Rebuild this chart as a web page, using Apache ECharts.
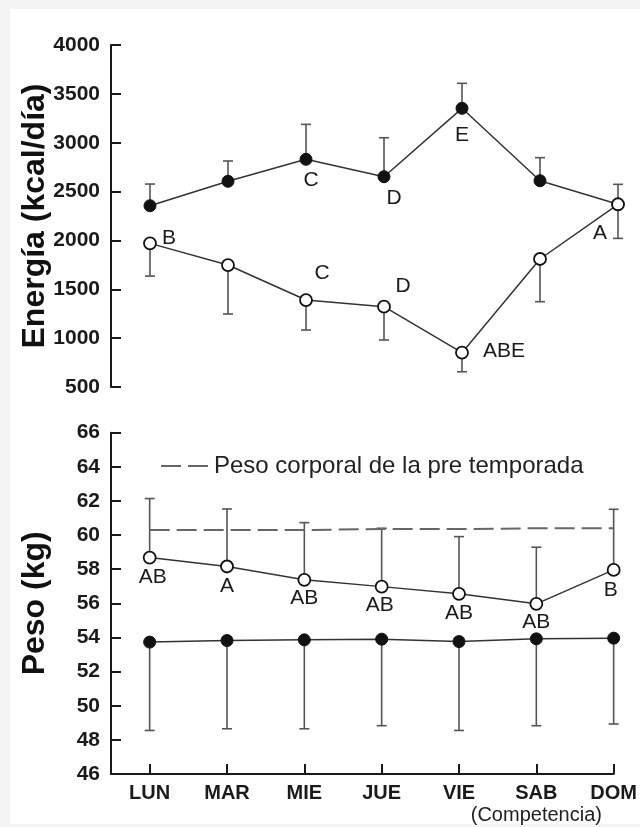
<!DOCTYPE html>
<html>
<head>
<meta charset="utf-8">
<script src="https://cdn.jsdelivr.net/npm/echarts@6/dist/echarts.min.js"></script>
<style>
  html, body { margin: 0; padding: 0; background: #f3f3f3; }
  #paper { position: absolute; left: 10px; top: 9px; width: 630px; height: 815px; background: #ffffff; }
  #chart { position: absolute; left: 0; top: 0; width: 640px; height: 827px; }
</style>
</head>
<body>
<div id="paper"></div>
<div id="chart"></div>
<script>
// ---- Data ----
const dias = ['LUN', 'MAR', 'MIE', 'JUE', 'VIE', 'SAB', 'DOM'];

const energiaCerrado     = [2355, 2605, 2830, 2652, 3352, 2611, 2370];
const energiaCerradoSup  = [2577, 2813, 3188, 3051, 3608, 2847, 2574];
const energiaAbierto     = [1970, 1748, 1390, 1322, 851, 1810, 2370];
const energiaAbiertoInf  = [1635, 1247, 1083, 981, 656, 1373, 2021];

const pesoAbierto        = [58.68, 58.16, 57.38, 56.98, 56.56, 55.97, 57.96];
const pesoAbiertoSup     = [62.14, 61.53, 60.73, 60.40, 59.91, 59.29, 61.51];
const pesoCerrado        = [53.73, 53.82, 53.86, 53.90, 53.76, 53.92, 53.96];
const pesoCerradoInf     = [48.55, 48.65, 48.65, 48.83, 48.55, 48.83, 48.93];
const pesoPretemporada   = [60.30, 60.30, 60.30, 60.35, 60.35, 60.40, 60.40];

const letrasEnergiaCerrado = ['', '', 'C', 'D', 'E', '', ''];
const letrasEnergiaAbierto = ['B', '', 'C', 'D', 'ABE', '', 'A'];
const letrasPesoAbierto    = ['AB', 'A', 'AB', 'AB', 'AB', 'AB', 'B'];

const energiaTicks = { min: 500, max: 4000, step: 500 };
const pesoTicks = { min: 46, max: 66, step: 2 };
const nombreLeyenda = 'Peso corporal de la pre temporada';
const notaSab = '(Competencia)';
const diaNota = 5; // SAB

// ---- Styles (label offsets relative to point centre) ----
const offEnergiaCerrado = [[0,0],[0,0],[5,21],[10,21],[0,27],[0,0],[0,0]];
const offEnergiaAbierto = [[19,-5],[0,0],[16,-27],[19,-20],[42,-1],[0,0],[-18,29]];
const offPesoAbierto    = [[3,20],[0,20],[0,18],[-2,19],[0,19],[0,18],[-3,20]];

const FONT = '"Liberation Sans", Arial, Helvetica, sans-serif';
const DARK = '#1a1a1a';

function pts(vals, letters, offs) {
  return vals.map((v, i) => {
    const item = { value: [i, v] };
    if (letters && letters[i]) {
      item.label = {
        show: true, position: 'inside', offset: offs[i],
        formatter: letters[i], fontSize: 21, color: DARK, fontFamily: FONT
      };
    }
    return item;
  });
}

function errorBars(xi, yi, vals, ends) {
  return {
    type: 'custom', xAxisIndex: xi, yAxisIndex: yi, silent: true, z: 1,
    data: vals.map((v, i) => [i, v, ends[i]]),
    renderItem: function (params, api) {
      const p0 = api.coord([api.value(0), api.value(1)]);
      const p1 = api.coord([api.value(0), api.value(2)]);
      const hw = 5;
      const st = { stroke: '#555', lineWidth: 1.6 };
      return {
        type: 'group',
        children: [
          { type: 'line', shape: { x1: p0[0], y1: p0[1], x2: p1[0], y2: p1[1] }, style: st },
          { type: 'line', shape: { x1: p1[0] - hw, y1: p1[1], x2: p1[0] + hw, y2: p1[1] }, style: st }
        ]
      };
    }
  };
}

function lineSeries(xi, yi, data, filled) {
  return {
    type: 'line', xAxisIndex: xi, yAxisIndex: yi, data: data, z: 3,
    symbol: 'circle', symbolSize: 12,
    lineStyle: { color: '#333', width: 1.5 },
    itemStyle: filled ? { color: '#111', borderColor: '#111', borderWidth: 1 }
                      : { color: '#fff', borderColor: '#111', borderWidth: 1.8 },
    label: { show: false },
    emphasis: { disabled: true }
  };
}

const xCommon = { type: 'value', min: -0.5, max: 6 };
const yAxisStyle = {
  axisLine: { show: true, onZero: false, lineStyle: { color: DARK, width: 2 } },
  axisTick: { show: true, inside: true, length: 10, lineStyle: { color: DARK, width: 2 } },
  axisLabel: { fontSize: 21, fontWeight: 'bold', color: DARK, margin: 11, fontFamily: FONT,
               formatter: function (v) { return String(v); } },
  splitLine: { show: false },
  nameLocation: 'middle', nameRotate: 90, nameMoveOverlap: false,
  nameTextStyle: { fontSize: 32, fontWeight: 'bold', color: '#111', fontFamily: FONT }
};

const chart = echarts.init(document.getElementById('chart'), null, { renderer: 'canvas' });
chart.setOption({
  animation: false,
  backgroundColor: 'transparent',
  textStyle: { fontFamily: FONT },
  grid: [
    { left: 111, right: 22, top: 45, height: 342 },
    { left: 111, right: 22, top: 432.7, bottom: 53 }
  ],
  legend: {
    data: [nombreLeyenda], left: 155, top: 449,
    itemWidth: 48, itemHeight: 14, itemGap: 8,
    itemStyle: { opacity: 0 },
    textStyle: { fontSize: 24, color: '#222', fontFamily: FONT },
    selectedMode: false
  },
  xAxis: [
    Object.assign({}, xCommon, { gridIndex: 0, show: false }),
    Object.assign({}, xCommon, {
      gridIndex: 1,
      axisLine: { show: true, onZero: false, lineStyle: { color: DARK, width: 2 } },
      axisTick: { show: true, inside: true, length: 10, customValues: [0,1,2,3,4,5,6], lineStyle: { color: DARK, width: 2 } },
      axisLabel: {
        customValues: [0,1,2,3,4,5,6], margin: 9,
        showMinLabel: true, showMaxLabel: true, hideOverlap: false,
        fontSize: 20, fontWeight: 'bold', color: DARK, fontFamily: FONT,
        formatter: function (v) { return dias[Math.round(v)]; }
      },
      splitLine: { show: false }
    })
  ],
  yAxis: [
    Object.assign({}, yAxisStyle, {
      gridIndex: 0, type: 'value', min: energiaTicks.min, max: energiaTicks.max, interval: energiaTicks.step,
      name: 'Energía (kcal/día)', nameGap: 60
    }),
    Object.assign({}, yAxisStyle, {
      gridIndex: 1, type: 'value', min: pesoTicks.min, max: pesoTicks.max, interval: pesoTicks.step,
      name: 'Peso (kg)', nameGap: 60
    })
  ],
  series: [
    errorBars(0, 0, energiaCerrado, energiaCerradoSup),
    errorBars(0, 0, energiaAbierto, energiaAbiertoInf),
    lineSeries(0, 0, pts(energiaCerrado, letrasEnergiaCerrado, offEnergiaCerrado), true),
    lineSeries(0, 0, pts(energiaAbierto, letrasEnergiaAbierto, offEnergiaAbierto), false),
    {
      name: nombreLeyenda, type: 'line', xAxisIndex: 1, yAxisIndex: 1, z: 2,
      data: pesoPretemporada.map((v, i) => [i, v]),
      symbol: 'none',
      lineStyle: { color: '#666', width: 2, type: [20, 7] },
      itemStyle: { color: '#666' },
      emphasis: { disabled: true }
    },
    errorBars(1, 1, pesoAbierto, pesoAbiertoSup),
    errorBars(1, 1, pesoCerrado, pesoCerradoInf),
    lineSeries(1, 1, pts(pesoCerrado, null, null), true),
    lineSeries(1, 1, pts(pesoAbierto, letrasPesoAbierto, offPesoAbierto), false)
  ]
});

// "(Competencia)" note under SAB, placed through the axis scale
const base = chart.convertToPixel({ xAxisIndex: 1, yAxisIndex: 1 }, [diaNota, pesoTicks.min]);
chart.setOption({
  graphic: [{
    type: 'text', x: base[0], y: base[1] + 41,
    style: { text: notaSab, fontSize: 20, fill: '#222', fontFamily: FONT, align: 'center', verticalAlign: 'middle' }
  }]
});
</script>
</body>
</html>
